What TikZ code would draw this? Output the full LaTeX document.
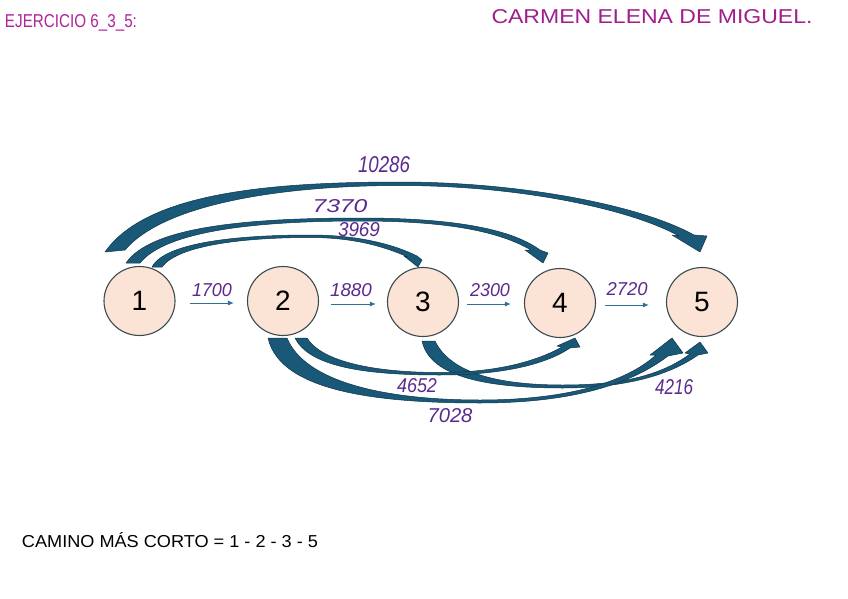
\documentclass[tikz,border=0pt]{standalone}
\usepackage{fontspec}
\usepackage{graphicx}
\usetikzlibrary{arrows.meta,shapes.geometric}
\newfontfamily\hand{Liberation Sans}
\definecolor{bandc}{HTML}{1A5878}
\definecolor{bandline}{HTML}{0F3447}
\definecolor{flowc}{HTML}{2F7096}
\definecolor{nodefill}{HTML}{FBE3D5}
\definecolor{nodeline}{HTML}{3A4A50}
\definecolor{lblc}{HTML}{5B2A8F}
\definecolor{titlec}{HTML}{B3239A}
\definecolor{namec}{HTML}{A01F8C}
\newcommand{\fitt}[3]{\resizebox{#1pt}{#2pt}{#3}}
\begin{document}
\begin{tikzpicture}[x=1pt,y=-1pt,
  band/.style={fill=bandc, draw=bandline, line width=0.5pt, line join=round},
  flow/.style={draw=flowc, line width=1pt, -{Latex[length=6pt,width=5pt]}},
  city/.style={ellipse, draw=nodeline, line width=1.1pt, fill=nodefill, minimum width=71pt, minimum height=69pt, inner sep=0pt, font=\hand\fontsize{28}{28}\selectfont},
  lbl/.style={inner sep=0pt, text=lblc, font=\hand\itshape},
  head/.style={inner sep=0pt, font=\hand}]
\useasboundingbox (0,0) rectangle (848,599);
\fill[white] (0,0) rectangle (848,599);

% titles
\node[head, text=titlec] (title) at (71,23) {\fitt{132}{13}{EJERCICIO 6\_3\_5:}};
\node[head, text=namec] (name) at (652,17) {\fitt{321}{14}{CARMEN ELENA DE MIGUEL.}};
\node[head, text=black] (path) at (170,540) {\fitt{296}{15}{CAMINO MÁS CORTO = 1 - 2 - 3 - 5}};

% curved arrows (top)
\path[band] (105,252) .. controls (145,195) and (260,182) .. (400,182)
  .. controls (520,182) and (640,205) .. (694,235) -- (707,236) -- (700,252) -- (672,235) -- (679,236)
  .. controls (630,209) and (520,185.5) .. (400,185.5)
  .. controls (285,185.5) and (165,203) .. (125,250) -- cycle;
\path[band] (126,263) .. controls (150,228) and (240,218) .. (360,218)
  .. controls (450,218) and (510,228) .. (540,250) -- (548,253) -- (543,263) -- (525,250) -- (531,250)
  .. controls (500,232) and (450,221) .. (360,221)
  .. controls (250,221) and (165,232) .. (140,263) -- cycle;
\path[band] (152,267) .. controls (165,242) and (240,235) .. (310,235)
  .. controls (360,235) and (395,245) .. (417,256) -- (422,260) -- (418,267) -- (404,256) -- (408,257)
  .. controls (385,247) and (355,237.5) .. (310,237.5)
  .. controls (245,237.5) and (178,245) .. (162,267) -- cycle;

% curved arrows (bottom)
\path[band] (422,341) .. controls (430,378) and (490,388) .. (563,388)
  .. controls (625,388) and (670,375) .. (698,355) -- (708,353) -- (700,342) -- (685,353) -- (690,354)
  .. controls (660,376) and (620,385) .. (563,385)
  .. controls (495,385) and (450,372) .. (435,341) -- cycle;
\path[band] (295,338) .. controls (310,368) and (370,375) .. (440,375)
  .. controls (500,375) and (545,365) .. (570,348) -- (580,347) -- (575,338) -- (557,346) -- (562,347)
  .. controls (535,362) and (495,372.5) .. (440,372.5)
  .. controls (375,372.5) and (322,362) .. (307,338) -- cycle;
\path[band] (268,338) .. controls (280,392) and (380,403) .. (480,403)
  .. controls (570,403) and (630,385) .. (668,356) -- (683,353) -- (672,338) -- (650,355) -- (656,355)
  .. controls (625,383) and (565,400) .. (480,400)
  .. controls (385,400) and (305,382) .. (287,338) -- cycle;

% nodes
\node[city] (n1) at (139.5,301) {1};
\node[city] (n2) at (283,301) {2};
\node[city] (n3) at (423,302) {3};
\node[city] (n4) at (560,303) {4};
\node[city] (n5) at (702,302) {5};

% straight arrows
\draw[flow, shorten <=14pt, shorten >=13pt] ([yshift=-2pt]n1.east) -- ([yshift=-2pt]n2.west);
\draw[flow, shorten <=12pt, shorten >=11pt] ([yshift=-3pt]n2.east) -- ([yshift=-2pt]n3.west);
\draw[flow, shorten <=8pt, shorten >=13pt] ([yshift=-2pt]n3.east) -- ([yshift=-1pt]n4.west);
\draw[flow, shorten <=9pt, shorten >=17pt] ([yshift=-2pt]n4.east) -- ([yshift=-3pt]n5.west);

% labels
\node[lbl] (l12) at (212,290) {\fitt{40}{13}{1700}};
\node[lbl] (l23) at (351,290) {\fitt{42}{13}{1880}};
\node[lbl] (l34) at (490,290) {\fitt{40}{13}{2300}};
\node[lbl] (l45) at (627,289) {\fitt{41}{13}{2720}};
\node[lbl] (l15) at (384,165) {\fitt{52}{16}{10286}};
\node[lbl] (l14) at (340,206) {\fitt{55}{13}{7370}};
\node[lbl] (l13) at (359,230) {\fitt{42}{14}{3969}};
\node[lbl] (l24) at (417,386) {\fitt{40}{14}{4652}};
\node[lbl] (l25) at (450,416) {\fitt{45}{14}{7028}};
\node[lbl] (l35) at (674,387) {\fitt{38}{15}{4216}};
\end{tikzpicture}
\end{document}
